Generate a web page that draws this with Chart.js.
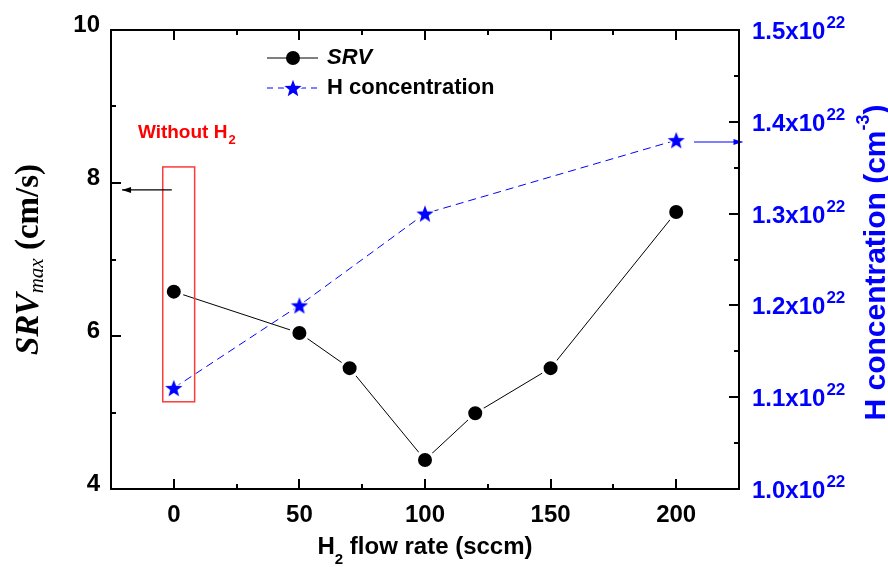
<!DOCTYPE html>
<html><head><meta charset="utf-8">
<script src="https://cdn.jsdelivr.net/npm/chart.js@4/dist/chart.umd.min.js"></script>
<style>html,body{margin:0;padding:0;background:#fff;overflow:hidden}</style>
</head><body>
<canvas id="c" width="888" height="567"></canvas>
<script>
// ---- data ----
const flowRates = [0, 50, 70, 100, 120, 150, 200];
const srvMax = [6.58, 6.04, 5.58, 4.38, 4.99, 5.58, 7.62];
const hFlowRates = [0, 50, 100, 200];
const hConcE22 = [1.11, 1.20, 1.30, 1.38];
const xTicks = [0, 50, 100, 150, 200];
const yLeftTicks = [4, 6, 8, 10];
const yRightTicks = [1.0, 1.1, 1.2, 1.3, 1.4, 1.5];
const yRightTickLabels = ['1.0x10', '1.1x10', '1.2x10', '1.3x10', '1.4x10', '1.5x10'];
const yRightTickExp = '22';
const seriesNames = ['SRV', 'H concentration'];

// annotations (data units)
const boxX = [-4.4, 8.3];
const boxY = [5.14, 8.21];
const leftArrowX = [-0.8, -20.6];
const leftArrowY = 7.91;
const rightArrowX = [207.1, 226.4];
const rightArrowY = 1.378;
const noteX = -14.3;
const noteY = 8.59;

const SANS = "Arial, 'Liberation Sans', sans-serif";
const SERIF = "'Times New Roman', 'Liberation Serif', serif";
const BLUE = '#0000ff';

function makeStar(R) {
  const s = Math.ceil(2 * R + 8);
  const c = document.createElement('canvas');
  c.width = s; c.height = s;
  const g = c.getContext('2d');
  g.translate(s / 2, s / 2 + 0.095 * R);
  g.beginPath();
  for (let i = 0; i < 10; i++) {
    const r = i % 2 ? R * 0.42 : R;
    const a = -Math.PI / 2 + i * Math.PI / 5;
    g.lineTo(r * Math.cos(a), r * Math.sin(a));
  }
  g.closePath();
  g.lineJoin = 'round';
  g.strokeStyle = '#fff'; g.lineWidth = 3; g.stroke();
  g.fillStyle = BLUE; g.fill();
  return c;
}
const starImg = makeStar(9);

function mids(a) { const m = []; for (let i = 0; i < a.length - 1; i++) m.push((a[i] + a[i + 1]) / 2); return m; }

function arrow(ctx, x1, y, x2, color) {
  ctx.save();
  ctx.strokeStyle = color; ctx.fillStyle = color; ctx.lineWidth = 1.2;
  ctx.beginPath(); ctx.moveTo(x1, y); ctx.lineTo(x2, y); ctx.stroke();
  const d = x2 > x1 ? 1 : -1;
  ctx.beginPath(); ctx.moveTo(x2, y); ctx.lineTo(x2 - d * 9, y - 3); ctx.lineTo(x2 - d * 9, y + 3); ctx.closePath(); ctx.fill();
  ctx.restore();
}

const deco = {
  id: 'deco',
  afterDatasetsDraw(chart) {
    const ctx = chart.ctx, a = chart.chartArea;
    const x = chart.scales.x, yL = chart.scales.y, yR = chart.scales.y1;
    ctx.save();
    // red box
    ctx.strokeStyle = '#ff3a3a'; ctx.lineWidth = 1.5;
    const bx1 = x.getPixelForValue(boxX[0]), bx2 = x.getPixelForValue(boxX[1]);
    const by1 = yL.getPixelForValue(boxY[1]), by2 = yL.getPixelForValue(boxY[0]);
    ctx.strokeRect(bx1, by1, bx2 - bx1, by2 - by1);
    // note text
    ctx.fillStyle = '#ff0000'; ctx.textBaseline = 'alphabetic'; ctx.textAlign = 'left';
    ctx.font = "bold 19px " + SANS;
    const nx = x.getPixelForValue(noteX), ny = yL.getPixelForValue(noteY);
    ctx.fillText('Without H', nx, ny);
    const w = ctx.measureText('Without H').width;
    ctx.font = "bold 13px " + SANS;
    ctx.fillText('2', nx + w + 1, ny + 6);
    // arrows
    arrow(ctx, x.getPixelForValue(leftArrowX[0]), yL.getPixelForValue(leftArrowY), x.getPixelForValue(leftArrowX[1]), '#000');
    arrow(ctx, x.getPixelForValue(rightArrowX[0]), yR.getPixelForValue(rightArrowY), x.getPixelForValue(rightArrowX[1]), BLUE);

    // frame
    ctx.strokeStyle = '#000'; ctx.lineWidth = 2;
    ctx.strokeRect(a.left, a.top, a.right - a.left, a.bottom - a.top);
    // inward ticks
    ctx.lineWidth = 2;
    ctx.beginPath();
    const tx = (vals, len) => vals.forEach(v => {
      const p = Math.round(x.getPixelForValue(v));
      ctx.moveTo(p, a.bottom); ctx.lineTo(p, a.bottom - len);
      ctx.moveTo(p, a.top); ctx.lineTo(p, a.top + len);
    });
    tx(xTicks, 10); tx(mids(xTicks), 5);
    const tyl = (vals, len) => vals.forEach(v => {
      const p = Math.round(yL.getPixelForValue(v));
      ctx.moveTo(a.left, p); ctx.lineTo(a.left + len, p);
    });
    tyl(yLeftTicks, 10); tyl(mids(yLeftTicks), 5);
    const tyr = (vals, len) => vals.forEach(v => {
      const p = Math.round(yR.getPixelForValue(v));
      ctx.moveTo(a.right, p); ctx.lineTo(a.right - len, p);
    });
    tyr(yRightTicks, 10); tyr(mids(yRightTicks), 5);
    ctx.stroke();

    // right tick labels with superscript
    ctx.fillStyle = BLUE; ctx.textAlign = 'left'; ctx.textBaseline = 'alphabetic';
    yRightTicks.forEach((v, i) => {
      const p = yR.getPixelForValue(v);
      ctx.font = "bold 24px " + SANS;
      const lx = a.right + 13;
      ctx.fillText(yRightTickLabels[i], lx, p + 9);
      const lw = ctx.measureText(yRightTickLabels[i]).width;
      ctx.font = "bold 17px " + SANS;
      ctx.fillText(yRightTickExp, lx + lw + 1, p - 2);
    });

    // bottom title
    ctx.fillStyle = '#000';
    ctx.font = "bold 24px " + SANS;
    const t1 = 'H', t2 = ' flow rate (sccm)';
    const w1 = ctx.measureText(t1).width, w3 = ctx.measureText(t2).width;
    ctx.font = "bold 15px " + SANS;
    const w2 = ctx.measureText('2').width;
    const total = w1 + w2 + w3;
    let sx = (a.left + a.right) / 2 - total / 2;
    const by = 554;
    ctx.font = "bold 24px " + SANS; ctx.fillText(t1, sx, by);
    ctx.font = "bold 15px " + SANS; ctx.fillText('2', sx + w1, by + 10);
    ctx.font = "bold 24px " + SANS; ctx.fillText(t2, sx + w1 + w2, by);

    // left title (rotated)
    ctx.save();
    const cy = (a.top + a.bottom) / 2;
    ctx.translate(38, cy);
    ctx.rotate(-Math.PI / 2);
    const f1 = "italic bold 33px " + SERIF, f2 = "italic 21px " + SERIF, f3 = "bold 33px " + SERIF;
    ctx.font = f1; const lw1 = ctx.measureText('SRV').width;
    ctx.font = f2; const lw2 = ctx.measureText('max').width;
    ctx.font = f3; const lw3 = ctx.measureText(' (cm/s)').width;
    let lx = -(lw1 + lw2 + lw3) / 2;
    ctx.font = f1; ctx.fillText('SRV', lx, 0);
    ctx.font = f2; ctx.fillText('max', lx + lw1, 5);
    ctx.font = f3; ctx.fillText(' (cm/s)', lx + lw1 + lw2, 0);
    ctx.restore();

    // right title (rotated)
    ctx.save();
    ctx.fillStyle = BLUE;
    ctx.translate(885, cy + 3);
    ctx.rotate(-Math.PI / 2);
    const g1 = "bold 30px " + SANS, g2 = "bold 18px " + SANS;
    ctx.font = g1; const r1 = ctx.measureText('H concentration (cm').width, r3 = ctx.measureText(')').width;
    ctx.font = g2; const r2 = ctx.measureText('-3').width;
    let rx = -(r1 + r2 + r3) / 2;
    ctx.font = g1; ctx.fillText('H concentration (cm', rx, 0);
    ctx.font = g2; ctx.fillText('-3', rx + r1, -16);
    ctx.font = g1; ctx.fillText(')', rx + r1 + r2, 0);
    ctx.restore();

    // legend
    const lgx = 267, lgx2 = 318, lgc = 293, ltx = 327;
    const ly1 = 58, ly2 = 88;
    ctx.strokeStyle = '#000'; ctx.lineWidth = 1;
    ctx.beginPath(); ctx.moveTo(lgx, ly1); ctx.lineTo(lgx2, ly1); ctx.stroke();
    ctx.fillStyle = '#000';
    ctx.beginPath(); ctx.arc(lgc, ly1, 7, 0, Math.PI * 2); ctx.fill();
    ctx.strokeStyle = BLUE; ctx.setLineDash([6, 5]);
    ctx.beginPath(); ctx.moveTo(lgx, ly2); ctx.lineTo(lgx2, ly2); ctx.stroke();
    ctx.setLineDash([]);
    ctx.drawImage(starImg, lgc - starImg.width / 2, ly2 - starImg.height / 2);
    ctx.fillStyle = '#000'; ctx.textBaseline = 'middle';
    ctx.font = "italic bold 22px " + SANS; ctx.fillText(seriesNames[0], ltx, ly1);
    ctx.font = "bold 22px " + SANS; ctx.fillText(seriesNames[1], ltx, ly2);
    ctx.restore();
  }
};

const tickFont = { family: SANS, size: 24, weight: 'bold' };
new Chart(document.getElementById('c'), {
  type: 'line',
  data: {
    datasets: [
      {
        label: seriesNames[0],
        data: flowRates.map((v, i) => ({ x: v, y: srvMax[i] })),
        yAxisID: 'y',
        borderColor: '#000', borderWidth: 1,
        pointRadius: 8.5, pointBorderWidth: 3, pointBorderColor: '#fff', pointBackgroundColor: '#000',
        tension: 0
      },
      {
        label: seriesNames[1],
        data: hFlowRates.map((v, i) => ({ x: v, y: hConcE22[i] })),
        yAxisID: 'y1',
        borderColor: BLUE, borderWidth: 1, borderDash: [8, 5],
        pointStyle: starImg, pointRadius: 10,
        tension: 0
      }
    ]
  },
  options: {
    responsive: false, animation: false, devicePixelRatio: 1,
    layout: { padding: { top: 30, left: 0, right: 0, bottom: 0 } },
    plugins: { legend: { display: false }, tooltip: { enabled: false }, title: { display: false } },
    scales: {
      x: {
        type: 'linear', min: -25, max: 225,
        afterBuildTicks: s => { s.ticks = xTicks.map(v => ({ value: v })); },
        afterFit: s => { s.height = 78; },
        grid: { display: false, drawTicks: false }, border: { display: false },
        ticks: { font: tickFont, color: '#000', padding: 12, maxRotation: 0 }
      },
      y: {
        position: 'left', min: 4, max: 10,
        afterBuildTicks: s => { s.ticks = yLeftTicks.map(v => ({ value: v })); },
        afterFit: s => { s.width = 111; },
        grid: { display: false, drawTicks: false }, border: { display: false },
        ticks: { font: tickFont, color: '#000', padding: 11, labelOffset: -5 }
      },
      y1: {
        position: 'right', min: 1.0, max: 1.5,
        afterBuildTicks: s => { s.ticks = yRightTicks.map(v => ({ value: v })); },
        afterFit: s => { s.width = 149; },
        grid: { display: false, drawTicks: false }, border: { display: false },
        ticks: { display: false }
      }
    }
  },
  plugins: [deco]
});
</script>
</body></html>
